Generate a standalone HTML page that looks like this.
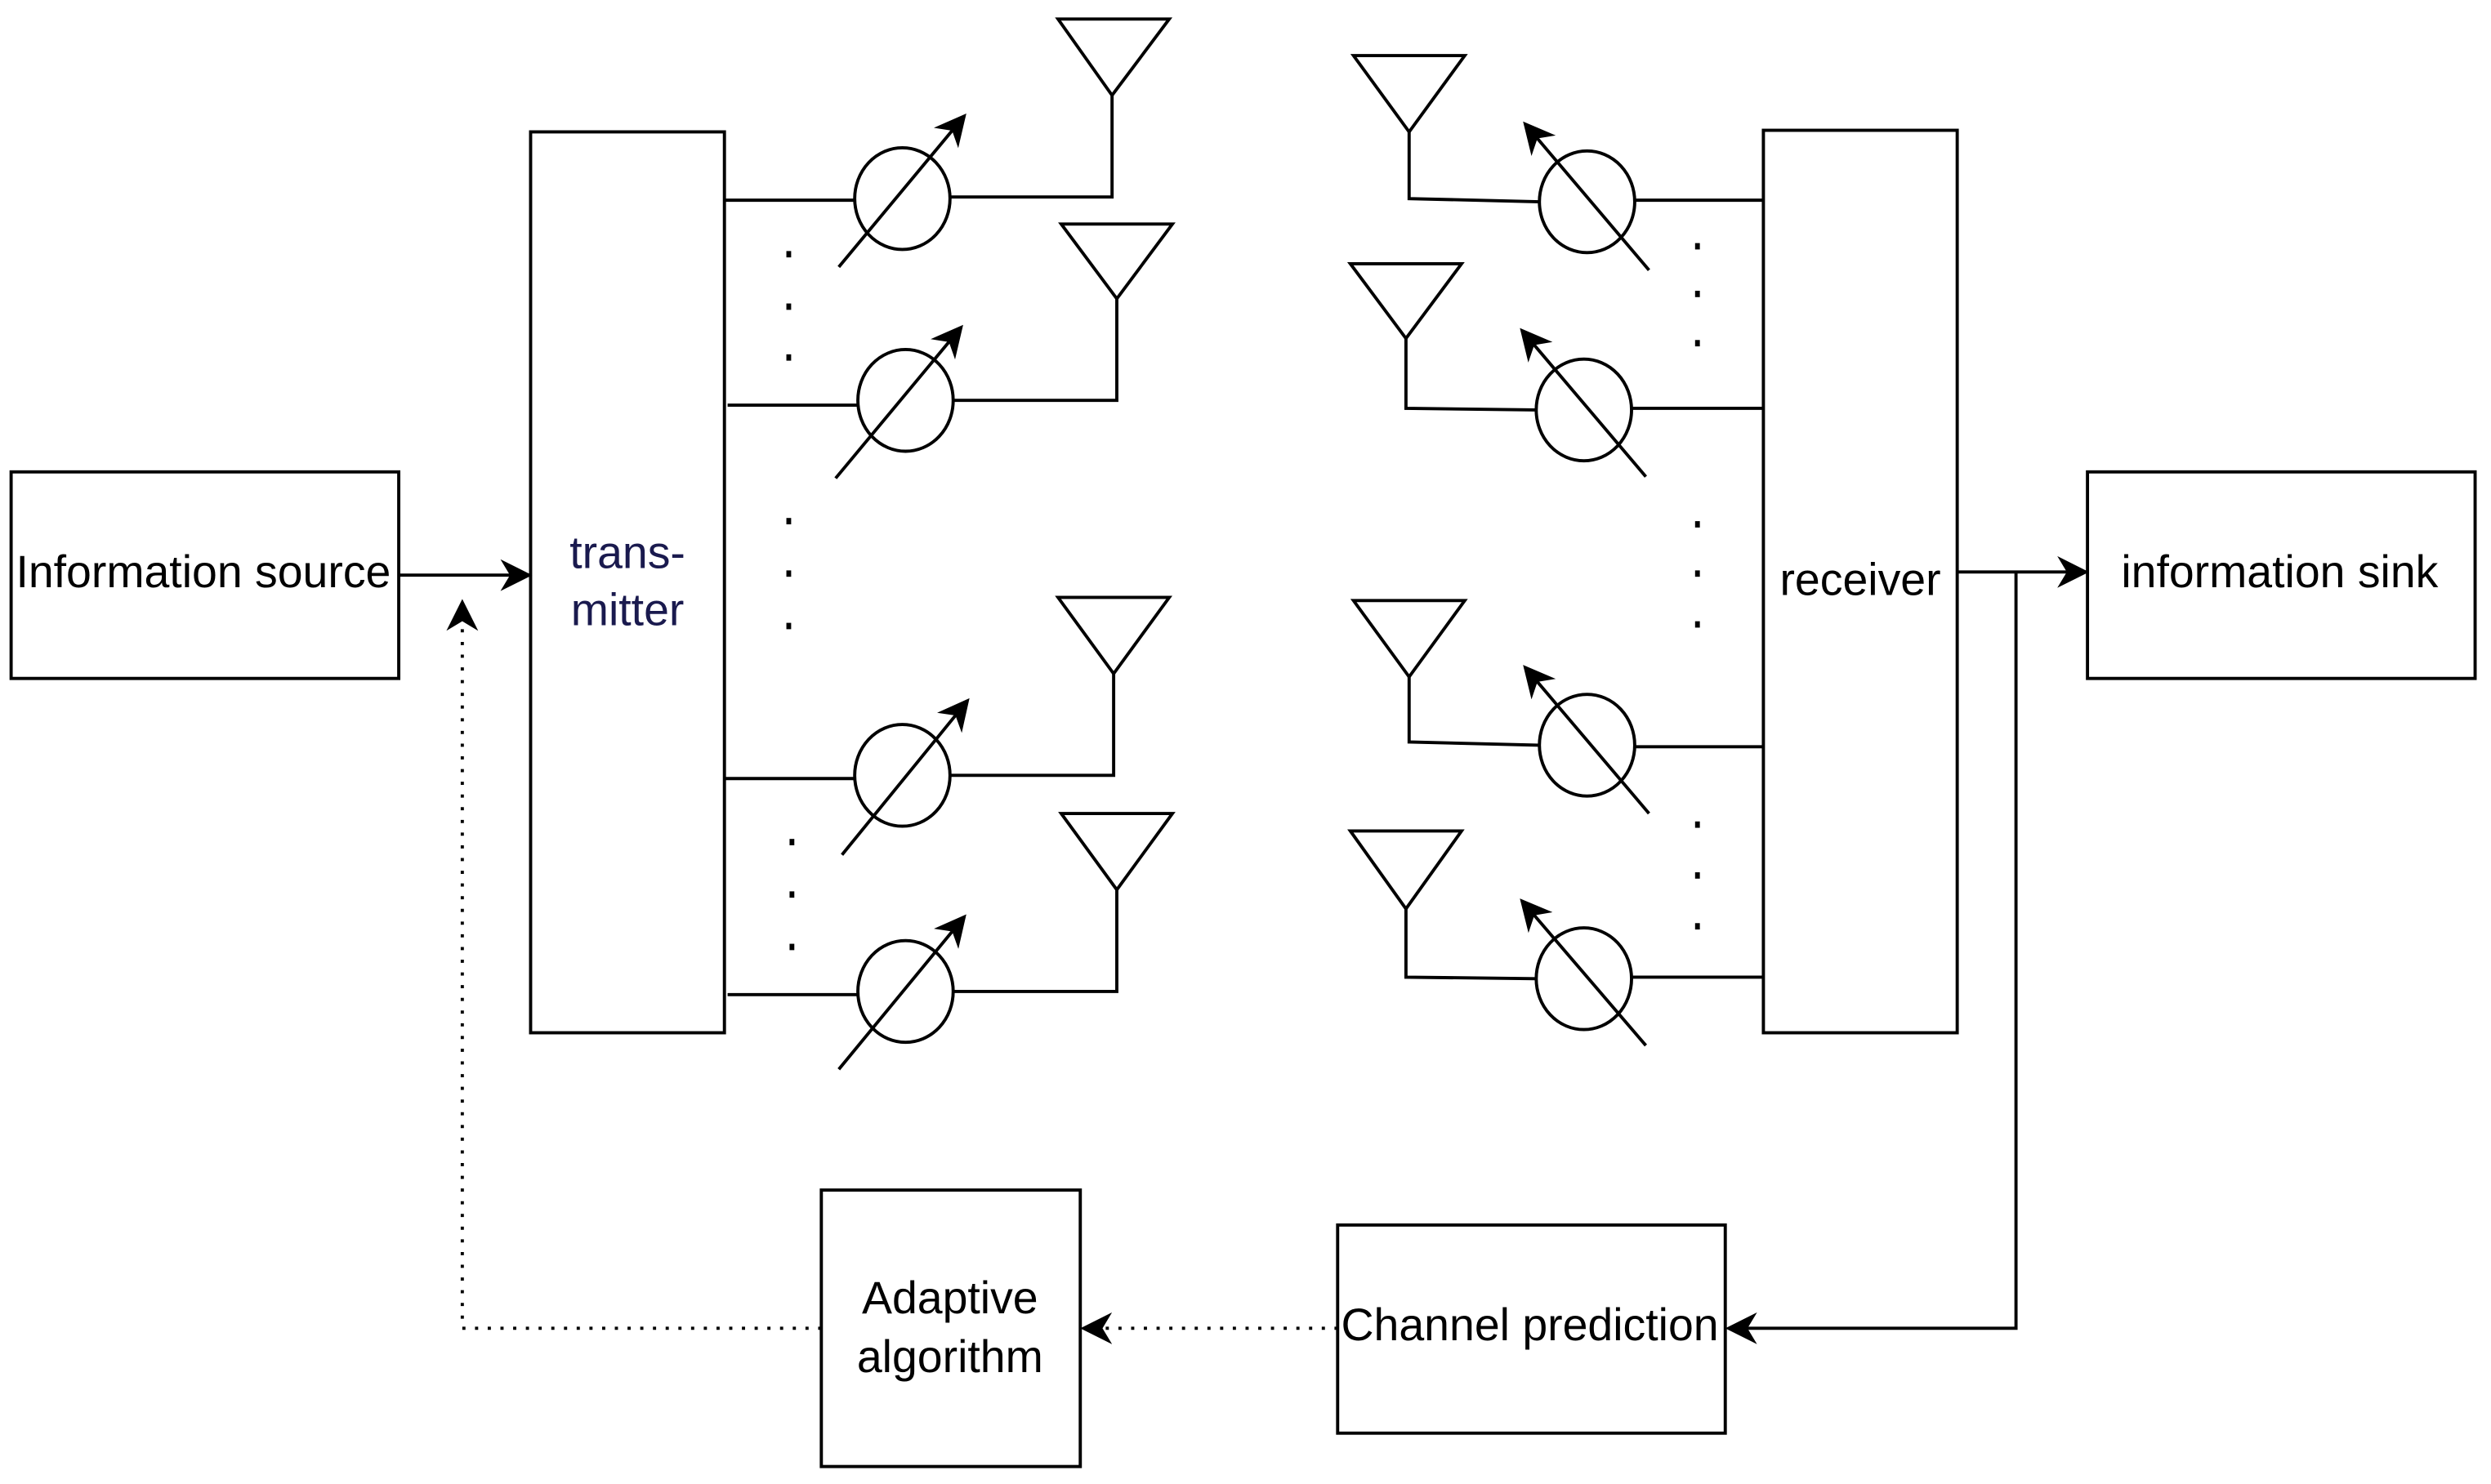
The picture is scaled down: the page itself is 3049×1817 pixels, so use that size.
<!DOCTYPE html>
<html><head><meta charset="utf-8"><style>
html,body{margin:0;padding:0;background:#fff;}
svg{display:block;}
text{font-family:"Liberation Sans",Arial,sans-serif;font-size:28.5px;text-anchor:middle;dominant-baseline:middle;fill:#000;}
</style></head><body>
<svg width="3049" height="1817" viewBox="0 0 1568 934" preserveAspectRatio="none" xmlns="http://www.w3.org/2000/svg">
<defs>
<marker id="ab" viewBox="0 0 10 10" refX="9" refY="5" markerWidth="20" markerHeight="20" markerUnits="userSpaceOnUse" orient="auto"><path d="M0,0 L10,5 L0,10 L3,5 Z" fill="#000"/></marker>
</defs>
<g fill="none" stroke="#000" stroke-width="2">
<rect x="7" y="297" width="244" height="130"/>
<rect x="334" y="83" width="122" height="567"/>
<rect x="1110" y="82" width="122" height="568"/>
<rect x="1314" y="297" width="244" height="130"/>
<rect x="842" y="771" width="244" height="131"/>
<rect x="517" y="749" width="163" height="174"/>
<line x1="251" y1="362" x2="333" y2="362" marker-end="url(#ab)"/>
<line x1="1232" y1="360" x2="1313" y2="360" marker-end="url(#ab)"/>
<polyline points="1269,360 1269,836 1088,836" marker-end="url(#ab)"/>
<line x1="842" y1="836" x2="682" y2="836" stroke-dasharray="2,6" marker-end="url(#ab)"/>
<polyline points="517,836 291,836 291,379" stroke-dasharray="2,6" marker-end="url(#ab)"/>

<line x1="456" y1="126" x2="538" y2="126"/><ellipse cx="568" cy="125" rx="30" ry="32"/>
<polyline points="598,124 700,124 700,60"/><polygon points="666,12 736,12 700,60"/>
<line x1="528" y1="168" x2="607" y2="73" marker-end="url(#ab)"/>

<line x1="458" y1="255" x2="540" y2="255"/><ellipse cx="570" cy="252" rx="30" ry="32"/>
<polyline points="600,252 703,252 703,188"/><polygon points="668,141 738,141 703,188"/>
<line x1="526" y1="301" x2="605" y2="206" marker-end="url(#ab)"/>

<line x1="456" y1="490" x2="538" y2="490"/><ellipse cx="568" cy="488" rx="30" ry="32"/>
<polyline points="598,488 701,488 701,424"/><polygon points="666,376 736,376 701,424"/>
<line x1="530" y1="538" x2="609" y2="441" marker-end="url(#ab)"/>

<line x1="458" y1="626" x2="540" y2="626"/><ellipse cx="570" cy="624" rx="30" ry="32"/>
<polyline points="600,624 703,624 703,560"/><polygon points="668,512 738,512 703,560"/>
<line x1="528" y1="673" x2="607" y2="577" marker-end="url(#ab)"/>

<polyline points="969,127 887,125 887,83"/><polygon points="852,35 922,35 887,83"/>
<ellipse cx="999" cy="127" rx="30" ry="32"/><line x1="1029" y1="126" x2="1110" y2="126"/>
<line x1="1038" y1="170" x2="960" y2="78" marker-end="url(#ab)"/>

<polyline points="967,258 885,257 885,213"/><polygon points="850,166 920,166 885,213"/>
<ellipse cx="997" cy="258" rx="30" ry="32"/><line x1="1027" y1="257" x2="1110" y2="257"/>
<line x1="1036" y1="300" x2="958" y2="208" marker-end="url(#ab)"/>

<polyline points="969,469 887,467 887,426"/><polygon points="852,378 922,378 887,426"/>
<ellipse cx="999" cy="469" rx="30" ry="32"/><line x1="1029" y1="470" x2="1110" y2="470"/>
<line x1="1038" y1="512" x2="960" y2="420" marker-end="url(#ab)"/>

<polyline points="967,616 885,615 885,572"/><polygon points="850,523 920,523 885,572"/>
<ellipse cx="997" cy="616" rx="30" ry="32"/><line x1="1027" y1="615" x2="1110" y2="615"/>
<line x1="1036" y1="658" x2="958" y2="567" marker-end="url(#ab)"/>
</g>
<g fill="#000">
<rect x="495" y="158" width="3" height="4"/><rect x="495" y="191" width="3" height="4"/><rect x="495" y="223" width="3" height="4"/>
<rect x="495" y="326" width="3" height="4"/><rect x="495" y="359" width="3" height="4"/><rect x="495" y="392" width="3" height="4"/>
<rect x="497" y="528" width="3" height="4"/><rect x="497" y="561" width="3" height="4"/><rect x="497" y="594" width="3" height="4"/>
<rect x="1067" y="153" width="3" height="4"/><rect x="1067" y="183" width="3" height="4"/><rect x="1067" y="214" width="3" height="4"/>
<rect x="1067" y="328" width="3" height="4"/><rect x="1067" y="359" width="3" height="4"/><rect x="1067" y="391" width="3" height="4"/>
<rect x="1067" y="517" width="3" height="4"/><rect x="1067" y="549" width="3" height="4"/><rect x="1067" y="581" width="3" height="4"/>
</g>
<text x="128" y="362">Information source</text>
<text x="395" y="350" style="fill:#1a1a4e">trans-</text>
<text x="395" y="386" style="fill:#1a1a4e">mitter</text>
<text x="1171" y="367">receiver</text>
<text x="1435" y="362">information sink</text>
<text x="963" y="836">Channel prediction</text>
<text x="598" y="819">Adaptive</text>
<text x="598" y="856">algorithm</text>
</svg>
</body></html>
